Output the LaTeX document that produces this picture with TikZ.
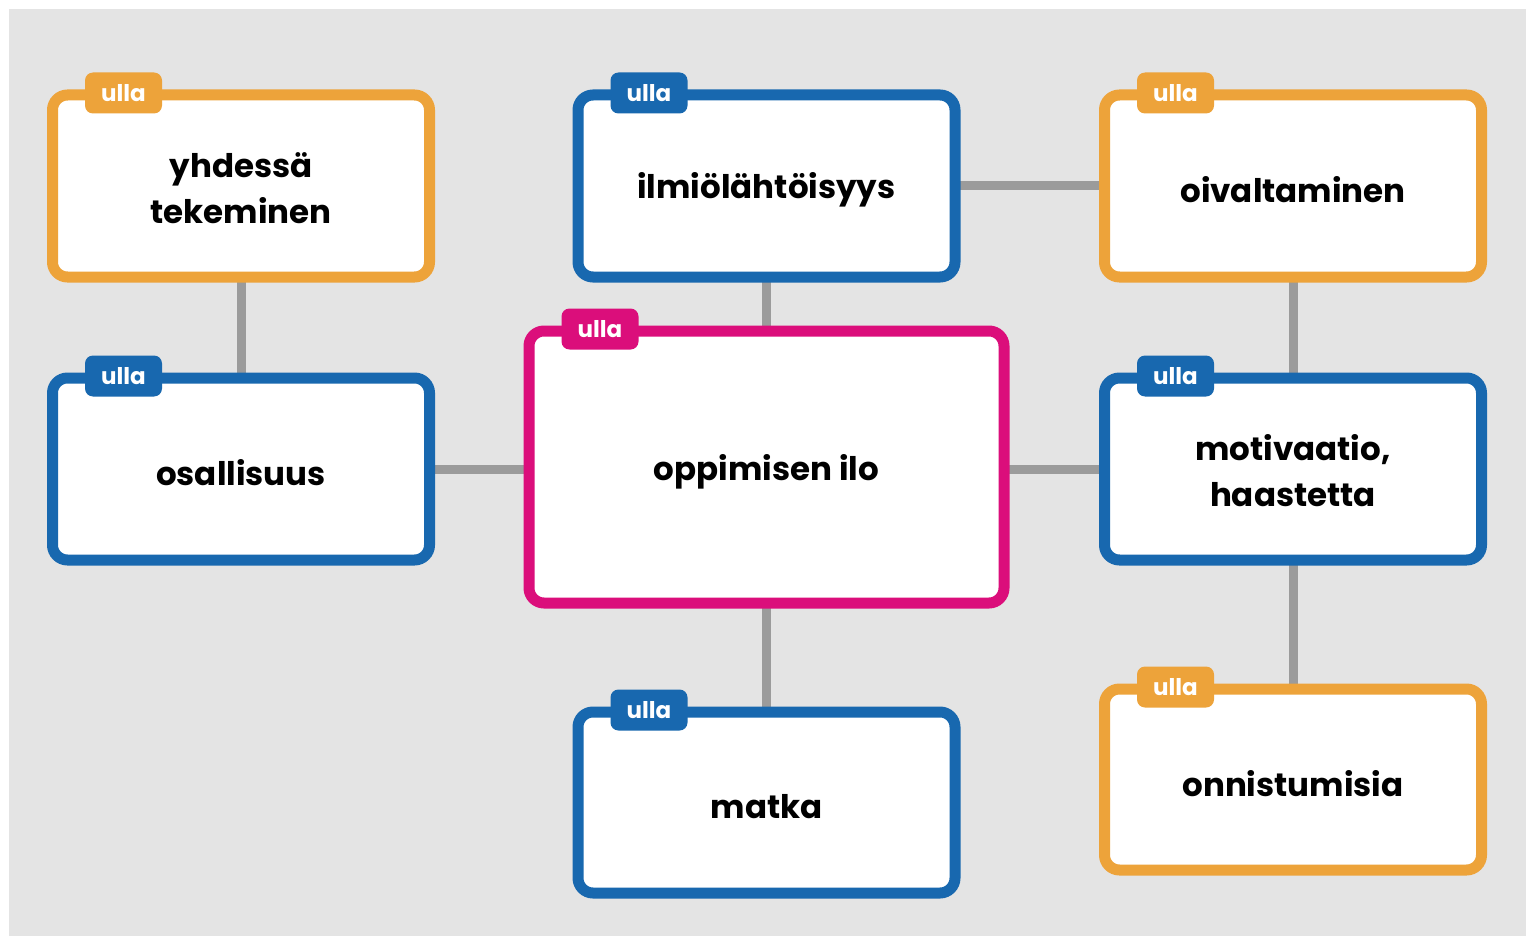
\documentclass[tikz,border=0pt]{standalone}
\usepackage{fontspec}
\setmainfont{Poppins}
\pgfdeclarelayer{bg}
\pgfdeclarelayer{conn}
\pgfsetlayers{bg,conn,main}
\definecolor{uorange}{HTML}{EDA33A}
\definecolor{ublue}{HTML}{1868AF}
\definecolor{upink}{HTML}{DB0E7B}
\definecolor{ugray}{HTML}{9B9B9B}
\definecolor{ubg}{HTML}{E4E4E4}
\newcommand\dn[2][4pt]{\raisebox{-#1}[\height][\depth]{#2}}
\begin{document}
\begin{tikzpicture}[x=1pt,y=-1pt,
  box/.style={draw=#1, fill=white, line width=11pt, rounded corners=15pt,
    minimum width=377pt, minimum height=182pt, inner sep=0pt, outer sep=0pt,
    align=center, font=\fontsize{32.5}{46}\selectfont\bfseries, text=black},
  tab/.style={fill=#1, rounded corners=8pt, minimum width=77pt, minimum height=41pt,
    inner sep=0pt, text=white, font=\fontsize{23}{23}\selectfont\bfseries},
  link/.style={draw=ugray, line width=9pt}]
\useasboundingbox (0,0) rectangle (1526,936);
\begin{pgfonlayer}{bg}
\fill[ubg] (9,9) rectangle (1526,936);
\end{pgfonlayer}

\node[box=uorange] (yhd) at (241,186) {\dn[2pt]{yhdessä}\\\dn[2pt]{tekeminen}};
\node[box=ublue] (ilmi) at (766.5,186) {\dn{ilmiölähtöisyys}};
\node[box=uorange] (oiv) at (1293,186) {\dn{oivaltaminen}};
\node[box=ublue] (osal) at (241,469) {\dn{osallisuus}};
\node[box=upink, minimum width=475pt, minimum height=272pt] (ilo) at (766.5,467) {\dn[5pt]{oppimisen ilo}};
\node[box=ublue] (moti) at (1293,469) {\dn[2pt]{motivaatio,}\\\dn[2pt]{haastetta}};
\node[box=ublue, minimum height=181pt] (matka) at (766.5,802.5) {\dn{matka}};
\node[box=uorange, minimum height=181pt] (onni) at (1293,779.5) {\dn{onnistumisia}};

\node[tab=uorange] (t1) at ([xshift=71pt,yshift=2pt]yhd.north west) {ulla};
\node[tab=ublue] (t2) at ([xshift=71pt,yshift=2pt]ilmi.north west) {ulla};
\node[tab=uorange] (t3) at ([xshift=71pt,yshift=2pt]oiv.north west) {ulla};
\node[tab=ublue] (t4) at ([xshift=71pt,yshift=2pt]osal.north west) {ulla};
\node[tab=upink] (t5) at ([xshift=71pt,yshift=2pt]ilo.north west) {ulla};
\node[tab=ublue] (t6) at ([xshift=71pt,yshift=2pt]moti.north west) {ulla};
\node[tab=ublue] (t7) at ([xshift=71pt,yshift=2pt]matka.north west) {ulla};
\node[tab=uorange] (t8) at ([xshift=71pt,yshift=2pt]onni.north west) {ulla};

\begin{pgfonlayer}{conn}
\draw[link] (yhd.south) -- (osal.north);
\draw[link] (ilmi.east) -- (oiv.west);
\draw[link] (ilmi.south) -- (ilo.north);
\draw[link] (osal.east) -- (osal.east -| ilo.west);
\draw[link] (ilo.east |- moti.west) -- (moti.west);
\draw[link] (oiv.south) -- (moti.north);
\draw[link] (moti.south) -- (onni.north);
\draw[link] (ilo.south) -- (matka.north);
\end{pgfonlayer}
\end{tikzpicture}
\end{document}
